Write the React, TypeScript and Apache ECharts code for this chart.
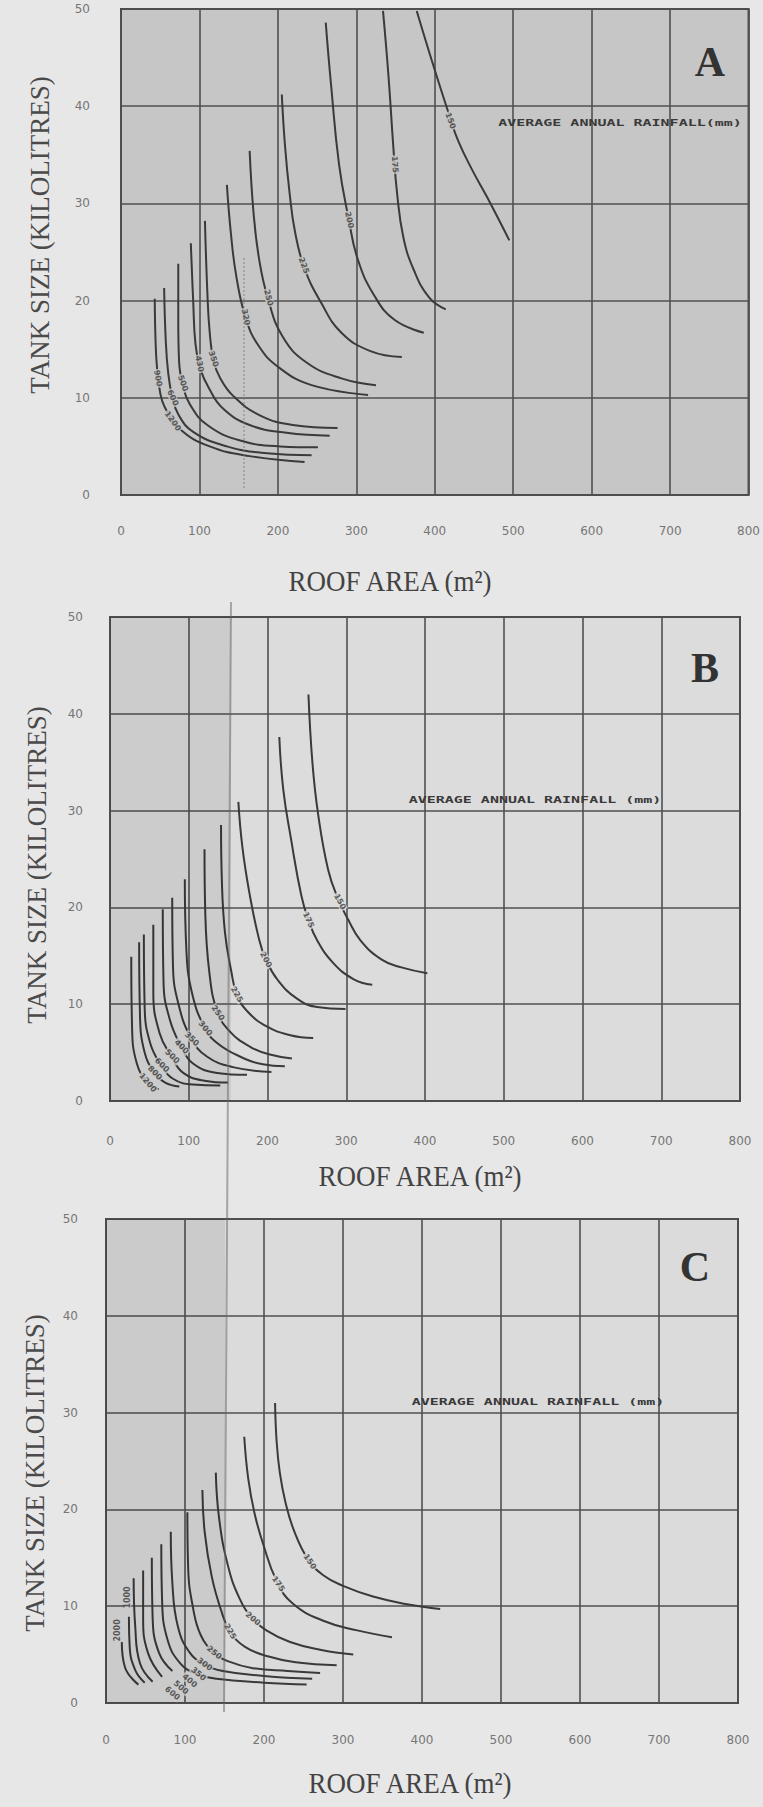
import React, { useEffect, useRef } from 'react';
import * as echarts from 'echarts';

// ---------- axis ranges ----------
const X_MIN = 0;
const X_MAX = 800;
const X_STEP = 100;
const Y_MIN = 0;
const Y_MAX = 50;
const Y_STEP = 10;

const X_NAME = 'ROOF AREA (m²)';
const Y_NAME = 'TANK SIZE (KILOLITRES)';
const AVG_A = 'AVERAGE ANNUAL RAINFALL(mm)';
const AVG_BC = 'AVERAGE ANNUAL RAINFALL (mm)';

// ---------- panel A curves: [rainfall label, [roof area m², tank kL]] ----------
const A_CURVES: [string, number[][]][] = [
  ['150', [[377, 49.8], [397, 44.5], [418, 39.2], [430, 36.4], [448, 33.4], [467, 30.6], [495, 26.2]]],
  ['175', [[334, 49.8], [341, 43.1], [347, 36], [352, 31], [360, 26.5], [373, 23.2], [393, 20.3], [414, 19.1]]],
  ['200', [[261, 48.6], [268, 42], [278, 34], [290, 28.5], [302, 24.2], [323, 20.5], [349, 18.0], [386, 16.7]]],
  ['225', [[205, 41.2], [209, 36], [215, 31], [222, 27], [234, 23.3], [255, 19.8], [281, 16.7], [318, 14.8], [358, 14.2]]],
  ['250', [[164, 35.4], [169, 29], [176, 24.3], [187, 20.3], [206, 16.3], [237, 13.6], [281, 12.0], [325, 11.3]]],
  ['320', [[135, 31.9], [140, 27], [147, 22.5], [159, 18.2], [175, 15.4], [200, 13.2], [243, 11.3], [315, 10.3]]],
  ['350', [[107, 28.2], [110, 21], [113, 16.8], [118, 13.8], [126, 12.1], [143, 10.2], [177, 8.2], [219, 7.2], [276, 6.9]]],
  ['430', [[89, 25.9], [92, 20], [95, 15.5], [101, 13], [112, 11.0], [130, 8.9], [164, 7.2], [211, 6.4], [266, 6.1]]],
  ['500', [[73, 23.8], [73, 18], [74, 13.8], [79, 11.2], [88, 9.3], [110, 7.2], [152, 5.6], [203, 5.0], [251, 4.9]]],
  ['600', [[55, 21.3], [57, 16], [60, 12.7], [65, 10.2], [73, 8.3], [92, 6.5], [135, 5.0], [186, 4.3], [243, 4.1]]],
  ['900', [[43, 20.2], [44, 16], [46, 13.0], [50, 10.5], [56, 9.0], [75, 6.8], [113, 5.0], [164, 4.0], [234, 3.4]]],
];
// [text, roof area, tank size, angle]
const A_LABELS: [string, number, number, number][] = [
  ['150', 420, 38.5, -70], ['175', 349, 34, -86], ['200', 291, 28.3, -78], ['225', 233, 23.6, -70],
  ['250', 188, 20.3, -75], ['320', 159, 18.3, -78], ['350', 118, 14, -72], ['430', 100, 13.5, -78],
  ['500', 79, 11.5, -70], ['600', 66, 10, -65], ['900', 47, 12, -80], ['1200', 66, 7.6, -55],
];

// ---------- panel B curves ----------
const B_CURVES: [string, number[][]][] = [
  ['150', [[252, 42.0], [257, 35.0], [264, 29.8], [277, 23.9], [290, 20.8], [302, 18.8], [318, 16.6], [345, 14.6], [370, 13.8], [403, 13.2]]],
  ['175', [[215, 37.6], [220, 32.2], [230, 27.0], [243, 21.2], [252, 18.7], [263, 16.6], [283, 14.3], [309, 12.6], [333, 12.0]]],
  ['200', [[163, 30.9], [168, 26.3], [177, 21.5], [189, 16.8], [198, 14.6], [213, 12.5], [237, 10.6], [263, 9.7], [299, 9.5]]],
  ['225', [[141, 28.5], [142, 22.9], [146, 17.4], [154, 13.4], [161, 11.0], [174, 9.3], [199, 7.7], [229, 6.8], [258, 6.5]]],
  ['250', [[120, 26.0], [121, 19.4], [126, 13.4], [136, 9.3], [152, 7.2], [178, 5.6], [203, 4.8], [231, 4.4]]],
  ['300', [[95, 22.9], [97, 15.6], [104, 11.2], [120, 7.6], [136, 6.0], [165, 4.6], [194, 3.8], [222, 3.6]]],
  ['350', [[79, 21.0], [80, 13.9], [87, 10.0], [103, 6.5], [123, 4.6], [156, 3.5], [205, 3.0]]],
  ['400', [[67, 19.8], [68, 12.2], [76, 8.4], [90, 5.7], [105, 3.9], [136, 2.9], [174, 2.7]]],
  ['500', [[55, 18.2], [55, 11.2], [63, 7.0], [78, 4.6], [93, 2.9], [120, 2.1], [150, 1.9]]],
  ['600', [[43, 17.2], [44, 9.7], [51, 6.0], [65, 3.7], [80, 2.3], [105, 1.7], [140, 1.6]]],
  ['800', [[37, 16.4], [38, 9.1], [44, 5.0], [57, 2.9], [70, 1.9], [88, 1.5]]],
  ['1200', [[27, 14.9], [28, 7.7], [34, 3.9], [48, 1.9], [62, 1.2]]],
];
const B_LABELS: [string, number, number, number][] = [
  ['150', 292, 20.6, -62], ['175', 252, 18.7, -65], ['200', 198, 14.6, -62], ['225', 161, 11, -60],
  ['250', 137, 9.1, -55], ['300', 121, 7.5, -50], ['350', 104, 6.4, -45], ['400', 91, 5.6, -45],
  ['500', 79, 4.6, -45], ['600', 66, 3.7, -45], ['800', 57, 2.9, -45], ['1200', 48, 1.9, -50],
];

// ---------- panel C curves ----------
const C_CURVES: [string, number[][]][] = [
  ['150', [[214, 31.0], [216, 27], [220, 23.8], [227, 20.8], [238, 17.8], [256, 14.8], [275, 13.2], [300, 12.1], [338, 11.0], [381, 10.2], [423, 9.7]]],
  ['175', [[175, 27.5], [180, 23.2], [188, 19.6], [199, 16.4], [216, 12.6], [236, 10.3], [275, 8.5], [318, 7.5], [362, 6.8]]],
  ['200', [[139, 23.8], [143, 19.2], [154, 14.3], [169, 10.8], [185, 8.8], [203, 7.5], [233, 6.3], [271, 5.5], [313, 5.0]]],
  ['225', [[122, 22.0], [125, 17.6], [134, 13.0], [146, 9.5], [157, 7.4], [176, 5.8], [206, 4.8], [240, 4.2], [292, 3.9]]],
  ['250', [[103, 19.7], [104, 14.0], [110, 9.9], [120, 7.0], [137, 5.2], [155, 4.3], [186, 3.6], [230, 3.3], [271, 3.1]]],
  ['300', [[82, 17.7], [84, 12.4], [91, 7.9], [106, 5.2], [125, 4.0], [148, 3.3], [200, 2.8], [261, 2.5]]],
  ['350', [[70, 16.4], [71, 10.6], [78, 6.5], [94, 4.1], [115, 3.0], [140, 2.5], [200, 2.1], [254, 1.9]]],
  ['400', [[58, 15.0], [59, 8.9], [67, 5.2], [84, 3.3]]],
  ['500', [[47, 13.7], [47, 8.9], [53, 5.2], [71, 2.7]]],
  ['600', [[35, 12.9], [37, 7.9], [43, 4.1], [59, 2.2]]],
  ['1000', [[29, 8.9], [30, 5.8], [37, 3.4], [49, 2.1]]],
  ['2000', [[20, 6.3], [24, 3.7], [41, 1.9]]],
];
const C_LABELS: [string, number, number, number][] = [
  ['150', 258, 14.6, -55], ['175', 218, 12.3, -55], ['200', 186, 8.7, -40], ['225', 157, 7.4, -60],
  ['250', 137, 5.2, -40], ['300', 125, 4.0, -35], ['350', 117, 3.0, -40], ['400', 106, 2.3, -40],
  ['500', 95, 1.6, -40], ['600', 84, 1.0, -40], ['1000', 27, 10.9, 90], ['2000', 14, 7.5, 90],
];

// ---------- layout (pixels) ----------
const PANELS = [
  { letter: 'A', curves: A_CURVES, labels: A_LABELS, avg: AVG_A, left: 121, top: 9, right: 749, bottom: 495, bg: '#c6c6c6', xm: 30, ym: 31, xName: [390, 580], yName: [40, 235], let: [710, 62], avgPos: [620, 123], shade: 0 },
  { letter: 'B', curves: B_CURVES, labels: B_LABELS, avg: AVG_BC, left: 110, top: 617, right: 740, bottom: 1101, bg: '#dcdcdc', xm: 34, ym: 27, xName: [420, 1175], yName: [37, 865], let: [705, 668], avgPos: [535, 800], shade: 231 },
  { letter: 'C', curves: C_CURVES, labels: C_LABELS, avg: AVG_BC, left: 106, top: 1219, right: 738, bottom: 1703, bg: '#dbdbdb', xm: 31, ym: 28, xName: [410, 1782], yName: [35, 1473], let: [695, 1267], avgPos: [538, 1402], shade: 225 },
];

export default function App() {
  const ref = useRef<HTMLDivElement>(null);
  useEffect(() => {
    if (!ref.current) return;
    const chart = echarts.init(ref.current, undefined, { renderer: 'svg' });
    const grid: any[] = [];
    const xAxis: any[] = [];
    const yAxis: any[] = [];
    const series: any[] = [];
    const graphic: any[] = [];
    PANELS.forEach((p, i) => {
      grid.push({
        left: p.left, top: p.top, width: p.right - p.left, height: p.bottom - p.top,
        show: true, backgroundColor: p.bg, borderColor: '#484848', borderWidth: 2,
      });
      xAxis.push({
        gridIndex: i, type: 'value', min: X_MIN, max: X_MAX, interval: X_STEP,
        axisLine: { show: false }, axisTick: { show: false },
        splitLine: { show: true, lineStyle: { color: '#505050', width: 1.6 } },
        axisLabel: { margin: p.xm, color: '#767676', fontSize: 12, fontFamily: 'DejaVu Sans' },
      });
      yAxis.push({
        gridIndex: i, type: 'value', min: Y_MIN, max: Y_MAX, interval: Y_STEP,
        axisLine: { show: false }, axisTick: { show: false },
        splitLine: { show: true, lineStyle: { color: '#505050', width: 1.6 } },
        axisLabel: { margin: p.ym, color: '#767676', fontSize: 12, fontFamily: 'DejaVu Sans' },
      });
      p.curves.forEach(([name, pts]) => {
        series.push({
          type: 'line', name: p.letter + name, xAxisIndex: i, yAxisIndex: i,
          data: pts, smooth: 0.45, showSymbol: false, symbol: 'none', silent: true, z: 3,
          lineStyle: { color: '#3a3a3a', width: 2 },
        });
      });
      series.push({
        type: 'scatter', xAxisIndex: i, yAxisIndex: i, symbolSize: 1, silent: true, z: 5,
        itemStyle: { color: 'rgba(0,0,0,0)' },
        data: p.labels.map(([t, x, y, r]) => ({
          value: [x, y],
          label: {
            show: true, formatter: t, rotate: r, position: 'inside',
            color: '#3a3a3a', fontSize: 8, fontWeight: 'bold', fontFamily: 'DejaVu Sans',
            backgroundColor: p.bg, padding: [0, 1],
          },
        })),
      });
      graphic.push({
        type: 'text', x: p.xName[0], y: p.xName[1], scaleY: 1.12, z: 10,
        style: { text: X_NAME, fill: '#434343', fontSize: 27, fontFamily: 'Liberation Serif', align: 'center', verticalAlign: 'middle' },
      });
      graphic.push({
        type: 'text', x: p.yName[0], y: p.yName[1], rotation: Math.PI / 2, z: 10,
        style: { text: Y_NAME, fill: '#4a4a4a', fontSize: 27, fontFamily: 'Liberation Serif', align: 'center', verticalAlign: 'middle' },
      });
      graphic.push({
        type: 'text', x: p.let[0], y: p.let[1], z: 10,
        style: { text: p.letter, fill: '#333333', fontSize: 42, fontWeight: 'bold', fontFamily: 'Liberation Serif', align: 'center', verticalAlign: 'middle' },
      });
      graphic.push({
        type: 'text', x: p.avgPos[0], y: p.avgPos[1], scaleY: 0.55, z: 10,
        style: { text: p.avg, fill: '#3a3a3a', fontSize: 15, fontWeight: 'bold', fontFamily: 'DejaVu Sans Mono', align: 'center', verticalAlign: 'middle' },
      });
      if (p.shade) {
        graphic.push({
          type: 'rect', z: 100, silent: true,
          shape: { x: p.left, y: p.top, width: p.shade - p.left, height: p.bottom - p.top },
          style: { fill: 'rgba(0,0,0,0.07)' },
        });
      }
    });
    graphic.push({
      type: 'line', z: 101, silent: true,
      shape: { x1: 231, y1: 602, x2: 224, y2: 1712 },
      style: { stroke: 'rgba(100,100,100,0.5)', lineWidth: 2 },
    });
    graphic.push({
      type: 'line', z: 101, silent: true,
      shape: { x1: 244, y1: 258, x2: 244, y2: 490 },
      style: { stroke: 'rgba(120,120,120,0.55)', lineWidth: 1.5, lineDash: [2, 2] },
    });

    chart.setOption({
      animation: false,
      backgroundColor: '#e7e7e7',
      grid, xAxis, yAxis, series, graphic,
    });
    return () => chart.dispose();
  }, []);
  return <div ref={ref} style={{ position: 'absolute', left: 0, top: 0, width: 763, height: 1807 }} />;
}
